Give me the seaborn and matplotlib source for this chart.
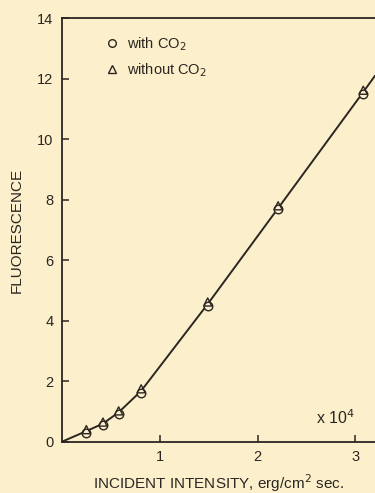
import numpy as np
import pandas as pd
import matplotlib.pyplot as plt
import seaborn as sns
from matplotlib.lines import Line2D

# intensity in units of 1e4 erg/cm^2 sec
intensity = [0.25, 0.42, 0.58, 0.81, 1.49, 2.21, 3.08]
fluor_with_co2 = [0.30, 0.55, 0.92, 1.62, 4.50, 7.68, 11.50]
fluor_without_co2 = [0.40, 0.65, 1.02, 1.75, 4.62, 7.80, 11.62]

# drawn curve through the points
curve_x = [0.0, 0.25, 0.42, 0.58, 0.81, 1.49, 2.21, 3.08, 3.2]
curve_y = [0.0, 0.35, 0.60, 0.97, 1.68, 4.55, 7.72, 11.56, 12.1]

bg = '#fcf0cc'
ink = '#2b2621'

sns.set_style('ticks')
plt.rcParams['font.family'] = ['Liberation Sans', 'DejaVu Sans']

fig = plt.figure(figsize=(3.75, 4.93), dpi=100, facecolor=bg)
ax = fig.add_axes([0.165, 0.104, 0.835, 0.859], facecolor=bg)

curve = pd.DataFrame({'x': curve_x, 'y': curve_y})
sns.lineplot(data=curve, x='x', y='y', ax=ax, color=ink, lw=1.4,
             sort=False, estimator=None)

pts = pd.DataFrame({'x': intensity, 'with': fluor_with_co2, 'without': fluor_without_co2})
sns.scatterplot(data=pts, x='x', y='with', ax=ax, marker='o', s=38,
                facecolor=bg, edgecolor=ink, linewidth=1.0, zorder=3)
sns.scatterplot(data=pts, x='x', y='without', ax=ax, marker='^', s=34,
                facecolor='none', edgecolor=ink, linewidth=1.0, zorder=4)

ax.set_xlim(0, 3.2)
ax.set_ylim(0, 14)
ax.set_xticks([1, 2, 3])
ax.set_yticks(range(0, 15, 2))
ax.tick_params(direction='in', length=5, width=1.1, colors=ink,
               labelsize=10.5, pad=6)
for s in ['left', 'bottom', 'top']:
    ax.spines[s].set_color(ink)
    ax.spines[s].set_linewidth(1.3)
ax.spines['right'].set_visible(False)

ax.set_xlabel('INCIDENT INTENSITY, erg/cm$^{2}$ sec.', fontsize=11, color=ink, labelpad=6)
ax.set_ylabel('FLUORESCENCE', fontsize=11, color=ink, labelpad=10)
ax.text(2.6, 0.8, 'x 10$^{4}$', fontsize=11.5, color=ink, va='center')

handles = [
    Line2D([], [], ls='none', marker='o', ms=5.5, mfc='none', mec=ink, mew=1.0),
    Line2D([], [], ls='none', marker='^', ms=5.5, mfc='none', mec=ink, mew=1.0),
]
ax.legend(handles, ['with CO$_2$', 'without CO$_2$'], loc='upper left',
          bbox_to_anchor=(0.1, 0.99), frameon=False, fontsize=10.5,
          handlelength=0.8, handletextpad=0.6, labelspacing=0.55,
          labelcolor=ink)

fig.savefig('out.png', dpi=100, facecolor=bg)
